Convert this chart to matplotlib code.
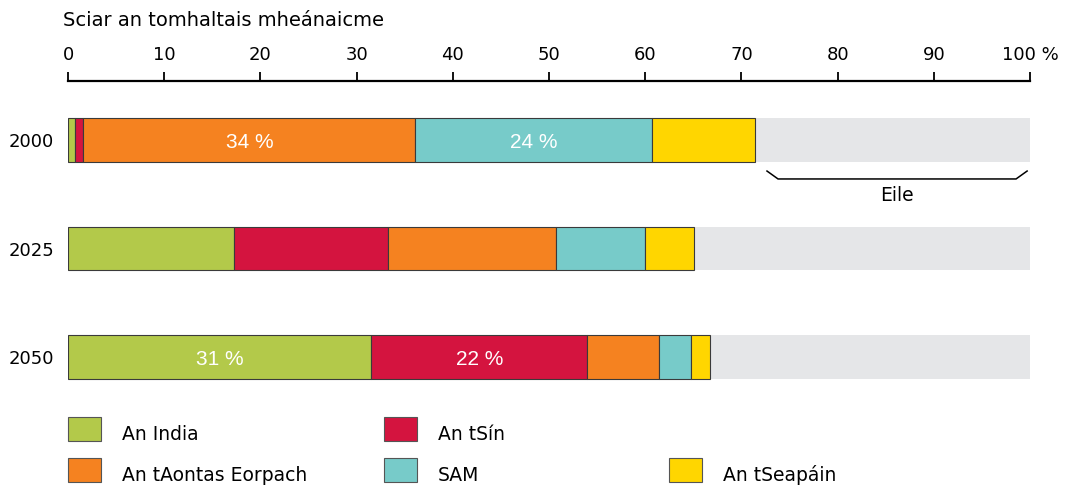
import matplotlib
matplotlib.use("Agg")
import matplotlib.pyplot as plt
from matplotlib.patches import Rectangle

years = ["2000", "2025", "2050"]
regions = ["An India", "An tSín", "An tAontas Eorpach", "SAM", "An tSeapáin"]
india = [0.7, 17.3, 31.5]
china = [0.9, 16.0, 22.5]
eu = [34.5, 17.4, 7.4]
usa = [24.6, 9.3, 3.4]
japan = [10.7, 5.1, 1.9]
other_label = "Eile"
colors = ["#b3c94a", "#d4143f", "#f58220", "#77cbc9", "#ffd600"]
grey = "#e5e6e8"
ticks = [0, 10, 20, 30, 40, 50, 60, 70, 80, 90, 100]
tick_labels = ["0", "10", "20", "30", "40", "50", "60", "70", "80", "90", "100 %"]
# (year index, region index, label)
bar_labels = [(0, 2, "34 %"), (0, 3, "24 %"), (2, 0, "31 %"), (2, 1, "22 %")]
title = "Sciar an tomhaltais mheánaicme"

W, H = 1072, 486
fig = plt.figure(figsize=(W / 100, H / 100), dpi=100)
ax_l, ax_r = 68, 1030
ax_t, ax_b = 81, 400
ax = fig.add_axes([ax_l / W, 1 - ax_b / H, (ax_r - ax_l) / W, (ax_b - ax_t) / H])

series = [india, china, eu, usa, japan]
ypos = list(range(len(years)))
bh = 0.405
for i in ypos:
    ax.barh(i, 100, height=bh, color=grey, linewidth=0, zorder=1)
left = [0.0] * len(years)
for s, c in zip(series, colors):
    ax.barh(ypos, s, left=left, height=bh, color=c, edgecolor="#3a3a3a",
            linewidth=0.8, zorder=2)
    left = [l + v for l, v in zip(left, s)]

for yi, ri, lab in bar_labels:
    start = sum(series[k][yi] for k in range(ri))
    ax.text(start + series[ri][yi] / 2, yi + 0.02, lab, ha="center", va="center",
            color="white", fontsize=15, family="Liberation Sans", zorder=3)

ax.set_xlim(0, 100)
ax.set_ylim(2.396, -(140 - ax_t) / 108.5)
ax.xaxis.tick_top()
ax.set_xticks(ticks)
ax.set_xticklabels(tick_labels, fontsize=13)
ax.tick_params(axis="x", direction="out", length=6.5, width=1.3, pad=6, color="black")
ax.set_yticks(ypos)
ax.set_yticklabels(years, fontsize=13)
ax.tick_params(axis="y", length=0, pad=10)
for sp in ["bottom", "left", "right"]:
    ax.spines[sp].set_visible(False)
ax.spines["top"].set_linewidth(1.6)

# bracket for "Eile" under 2000
others_start = left[0]
x0, x1 = others_start + 1.26, 99.7
yt, yb = 0.286, 0.359
bx = [x0, x0 + 1.15, x1 - 1.15, x1]
by = [yt, yb, yb, yt]
ax.plot(bx, by, color="black", lw=1.1, clip_on=False, solid_joinstyle="miter")
ax.text((x0 + x1) / 2, 0.51, other_label, ha="center", va="center", fontsize=13.5)

fig.text(63 / W, 1 - 20 / H, title, ha="left", va="center", fontsize=14)

# legend
leg_pos = [(68, 429), (384, 429), (68, 470), (384, 470), (669, 470)]
for (lx, ly), name, c in zip(leg_pos, regions, colors):
    fig.patches.append(Rectangle((lx / W, 1 - (ly + 12) / H), 33 / W, 24 / H,
                                 transform=fig.transFigure, facecolor=c,
                                 edgecolor="#555555", linewidth=0.8))
    fig.text((lx + 54) / W, 1 - (ly + 5) / H, name, ha="left", va="center", fontsize=13.5)

fig.savefig("out.png", dpi=100)
